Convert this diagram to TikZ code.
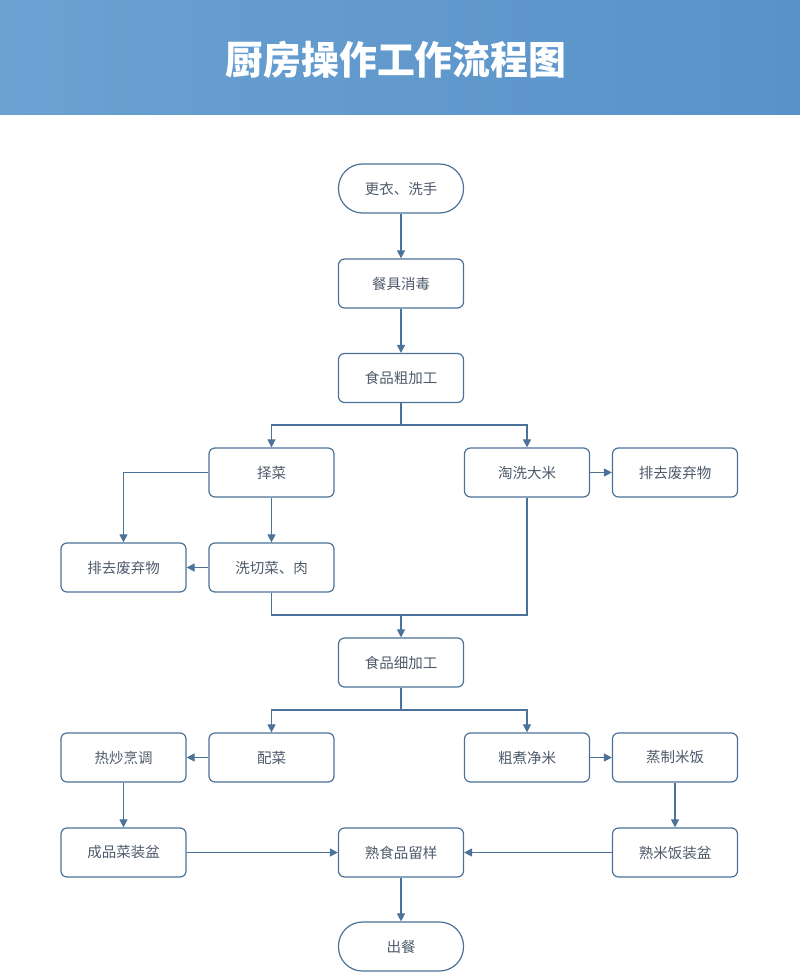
\documentclass[tikz,border=0pt]{standalone}
\usepackage{fontspec}
\newfontfamily\cjk{Noto Sans CJK SC}
\usetikzlibrary{arrows.meta,calc}
\definecolor{linec}{HTML}{4C7299}
\definecolor{txtc}{HTML}{4F5B6B}
\definecolor{hdrl}{HTML}{6BA1D3}
\definecolor{hdrr}{HTML}{5892C8}
\begin{document}
\begin{tikzpicture}[x=1pt,y=-1pt,
  box/.style={draw=linec,line width=1.2pt,rounded corners=6pt,minimum width=125pt,minimum height=49pt,inner sep=0pt,fill=white,text=txtc,font=\cjk\fontsize{14.5}{16}\selectfont},
  pill/.style={box,rounded corners=24pt},
  conn/.style={draw=linec,line width=1.1pt},
  arr/.style={conn,-{Triangle[length=8pt,width=8pt]}}]
\useasboundingbox (0,0) rectangle (800,974);
\fill[white] (0,0) rectangle (800,974);
\shade[left color=hdrl,right color=hdrr] (0,0) rectangle (800,114);
\node[text=white,font=\cjk\bfseries\fontsize{39}{42}\selectfont,xscale=0.97] (title) at (396,60) {厨房操作工作流程图};
\node[pill] (gy) at (401,188.5) {更衣、洗手};
\node[box] (cj) at (401,283.5) {餐具消毒};
\node[box] (cjg) at (401,378) {食品粗加工};
\node[box] (zc) at (271.5,472.5) {择菜};
\node[box] (tx) at (527,472.5) {淘洗大米};
\node[box] (pqr) at (675,472.5) {排去废弃物};
\node[box] (pql) at (123.5,567.5) {排去废弃物};
\node[box] (xq) at (271.5,567.5) {洗切菜、肉};
\node[box] (xjg) at (401,662.5) {食品细加工};
\node[box] (rc) at (123.5,757.5) {热炒烹调};
\node[box] (pc) at (271.5,757.5) {配菜};
\node[box] (cz) at (527,757.5) {粗煮净米};
\node[box] (zz) at (675,757.5) {蒸制米饭};
\node[box] (cp) at (123.5,852.5) {成品菜装盆};
\node[box] (ly) at (401,852.5) {熟食品留样};
\node[box] (sm) at (675,852.5) {熟米饭装盆};
\node[pill] (cc) at (401,946.5) {出餐};
\coordinate (s1) at (401,425);
\coordinate (j1) at (401,615);
\coordinate (s2) at (401,710);
\draw[arr] (gy) -- (cj);
\draw[arr] (cj) -- (cjg);
\draw[conn] (cjg.south) -- (s1);
\draw[arr] (s1) -| (zc.north);
\draw[arr] (s1) -| (tx.north);
\draw[arr] (zc.west) -| (pql.north);
\draw[arr] (zc) -- (xq);
\draw[arr] (xq) -- (pql);
\draw[arr] (tx) -- (pqr);
\draw[conn] (xq.south) |- (j1);
\draw[conn] (tx.south) |- (j1);
\draw[arr] (j1) -- (xjg.north);
\draw[conn] (xjg.south) -- (s2);
\draw[arr] (s2) -| (pc.north);
\draw[arr] (s2) -| (cz.north);
\draw[arr] (pc) -- (rc);
\draw[arr] (cz) -- (zz);
\draw[arr] (rc) -- (cp);
\draw[arr] (zz) -- (sm);
\draw[arr] (cp) -- (ly);
\draw[arr] (sm) -- (ly);
\draw[arr] (ly) -- (cc);
\end{tikzpicture}
\end{document}
